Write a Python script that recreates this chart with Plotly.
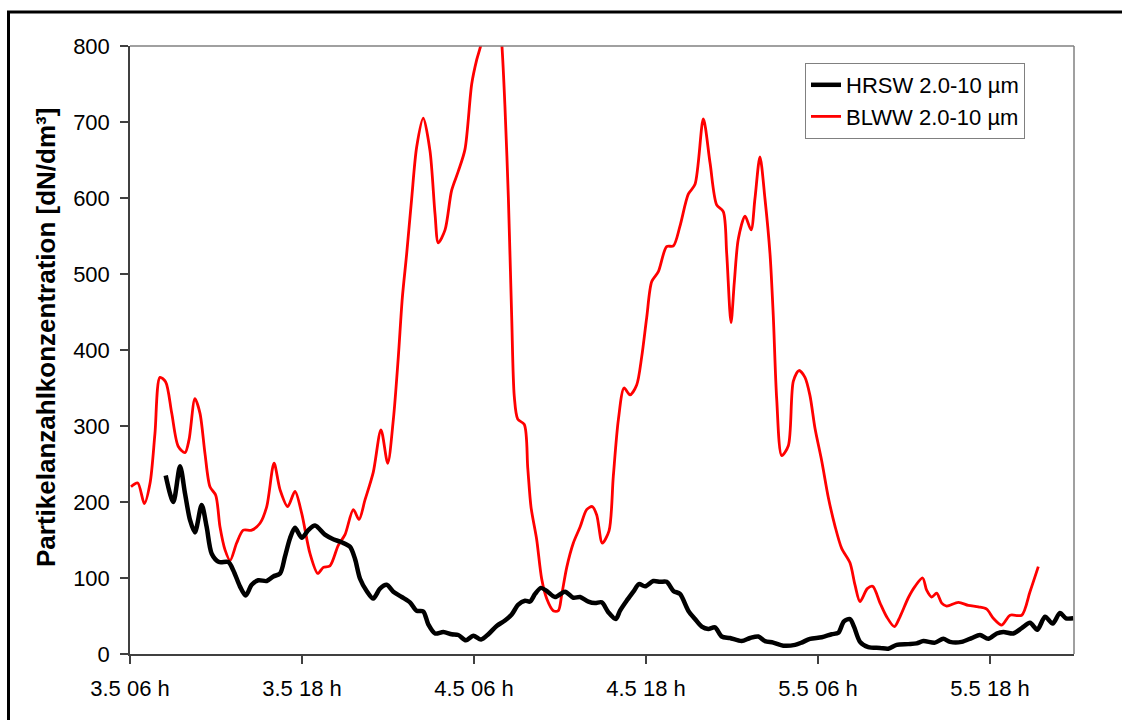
import plotly.graph_objects as go

# hours since 3.5 06 h
tick_hours = [0, 12, 24, 36, 48, 60]
tick_labels = ["3.5 06 h", "3.5 18 h", "4.5 06 h", "4.5 18 h", "5.5 06 h", "5.5 18 h"]

blww_hours = [0.07, 0.54, 1.0, 1.4, 1.74, 2.09, 2.49, 2.91, 3.37, 3.84, 4.12, 4.53, 4.88, 5.23,
              5.58, 5.98, 6.28, 6.63, 6.98, 7.44, 7.9, 8.49, 9.07, 9.54, 10.05, 10.47, 11.0,
              11.51, 11.98, 12.56, 13.1, 13.49, 13.95, 14.53, 15.0, 15.58, 15.98, 16.4, 16.97,
              17.51, 17.98, 18.37, 18.72, 19.0, 19.3, 19.65, 20.0, 20.46, 20.93, 21.28, 21.51,
              21.98, 22.44, 22.9, 23.37, 23.84, 24.19, 24.53, 25.12, 25.67, 25.95, 26.16, 26.4,
              26.63, 26.81, 27.05, 27.51, 27.75, 27.98, 28.37, 28.72, 29.07, 29.53, 29.88,
              30.12, 30.47, 30.93, 31.4, 31.86, 32.25, 32.56, 32.95, 33.42, 33.72, 34.07,
              34.47, 34.88, 35.35, 35.7, 36.05, 36.4, 36.86, 37.44, 37.91, 38.37, 38.95, 39.42,
              40.0, 40.47, 40.93, 41.39, 41.63, 41.93, 42.16, 42.44, 42.91, 43.33, 43.6, 43.95,
              44.3, 44.65, 44.88, 45.12, 45.47, 45.93, 46.28, 46.67, 47.09, 47.44, 47.79, 48.26,
              48.72, 49.19, 49.65, 50.23, 50.58, 50.93, 51.44, 51.82, 52.33, 52.79, 53.33,
              53.72, 54.3, 54.77, 55.3, 55.58, 55.93, 56.28, 56.63, 56.98, 57.79, 58.49, 59.19,
              59.77, 60.23, 60.82, 61.4, 62.21, 62.79, 63.37]
blww_values = [220, 225, 198, 225, 290, 364, 358, 317, 273, 265, 282, 336, 317, 264,
               220, 209, 167, 137, 123, 146, 163, 163, 172, 194, 251, 216, 194,
               214, 185, 132, 106, 114, 116, 143, 157, 190, 177, 203, 239,
               295, 251, 308, 391, 469, 526, 599, 667, 705, 662, 579, 541,
               558, 610, 635, 664, 750, 782, 805, 880, 860, 800, 720, 599,
               443, 339, 309, 302, 245, 193, 151, 99, 73, 57, 57,
               78, 114, 146, 167, 190, 194, 183, 146, 162, 234, 308,
               350, 341, 354, 391, 443, 490, 503, 536, 537, 563, 605, 618,
               704, 646, 591, 582, 527, 436, 489, 546, 576, 558, 599, 654,
               599, 527, 445, 335, 261, 274, 359, 373, 364, 340, 297, 254,
               206, 168, 139, 120, 91, 69, 86, 89, 67, 49, 36,
               49, 74, 89, 100, 84, 75, 80, 67, 63, 68, 64, 62,
               59, 47, 38, 51, 51, 82, 115]

hrsw_hours = [2.49, 3.02, 3.49, 3.84, 4.19, 4.53, 5.0, 5.35, 5.7, 6.21, 6.86, 7.21, 7.67, 8.07,
              8.49, 8.95, 9.54, 10.0, 10.47, 10.81, 11.16, 11.51, 11.98, 12.44, 12.91, 13.6,
              14.18, 14.77, 15.35, 15.7, 16.05, 16.51, 16.97, 17.44, 17.91, 18.37, 18.96, 19.53,
              20.0, 20.46, 20.81, 21.28, 21.86, 22.44, 22.9, 23.44, 23.95, 24.49, 25.0, 25.58,
              26.16, 26.63, 27.09, 27.56, 27.91, 28.26, 28.67, 29.07, 29.65, 30.35, 30.93, 31.4,
              31.98, 32.44, 32.91, 33.37, 33.89, 34.19, 34.65, 35.12, 35.51, 35.93, 36.51, 36.98,
              37.44, 37.91, 38.37, 38.95, 39.42, 39.89, 40.35, 40.81, 41.28, 41.86, 42.67, 43.26,
              43.84, 44.3, 44.88, 45.58, 46.4, 46.86, 47.44, 48.26, 48.95, 49.42, 49.81, 50.23,
              50.51, 50.93, 51.51, 52.33, 52.9, 53.49, 54.3, 54.88, 55.35, 56.16, 56.74, 57.21,
              58.02, 58.72, 59.3, 59.88, 60.47, 60.93, 61.63, 62.21, 62.79, 63.3, 63.84, 64.37,
              64.88, 65.3, 65.81]
hrsw_values = [235, 200, 247, 211, 176, 160, 196, 167, 132, 121, 121, 110, 89, 77,
               91, 97, 96, 102, 106, 128, 152, 166, 153, 163, 169, 157,
               151, 147, 141, 125, 99, 83, 73, 86, 91, 82, 75, 68,
               57, 56, 39, 27, 29, 26, 25, 18, 24, 19, 26, 37,
               44, 52, 65, 70, 69, 79, 87, 83, 75, 82, 74, 75,
               69, 67, 68, 55, 46, 57, 70, 82, 92, 89, 96, 95,
               95, 83, 79, 57, 46, 36, 33, 35, 23, 21, 17, 21,
               23, 17, 15, 11, 12, 15, 20, 22, 26, 28, 43, 46,
               36, 16, 9, 8, 7, 12, 13, 14, 17, 15, 20, 16,
               16, 21, 25, 20, 27, 29, 27, 34, 41, 32, 49, 40,
               54, 47, 47]

FONT = "Liberation Sans, Arial, sans-serif"

fig = go.Figure()
fig.add_trace(go.Scatter(x=blww_hours, y=blww_values, mode="lines", name="BLWW 2.0-10 µm",
                         line=dict(color="#ff0000", width=2.8, shape="spline", smoothing=0.8),
                         legendrank=2, legendgroup="b"))
fig.add_trace(go.Scatter(x=hrsw_hours, y=hrsw_values, mode="lines", name="HRSW 2.0-10 µm",
                         line=dict(color="#000000", width=4.5, shape="spline", smoothing=0.8),
                         legendrank=1, legendgroup="a"))

L, R, T, B = 130, 48, 46, 66
W, H = 1122, 720
pw, ph = W - L - R, H - T - B

def px_x(p):
    return (p - L) / pw

def px_y(p):
    return (H - B - p) / ph

fig.update_layout(
    width=W, height=H,
    margin=dict(l=L, r=R, t=T, b=B),
    paper_bgcolor="white", plot_bgcolor="white",
    font=dict(family=FONT, size=22, color="black"),
    showlegend=True,
    legend=dict(x=px_x(805), y=px_y(63), xanchor="left", yanchor="top",
                bordercolor="#808080", borderwidth=1, bgcolor="white",
                font=dict(size=22, family=FONT), tracegroupgap=6,
                traceorder="normal"),
    xaxis=dict(range=[0, 65.86], tickvals=tick_hours, ticktext=tick_labels,
               showgrid=False, zeroline=False, showline=True, linecolor="#404040", linewidth=1.5,
               ticks="outside", ticklen=8, tickcolor="#404040", tickwidth=1.5,
               tickfont=dict(size=22), ticklabelstandoff=6),
    yaxis=dict(range=[0, 800], dtick=100, showgrid=False, zeroline=False, showline=True,
               linecolor="#404040", linewidth=1.5, ticks="outside", ticklen=8,
               tickcolor="#404040", tickwidth=1.5, tickfont=dict(size=22), ticklabelstandoff=6),
)

# plot-area frame top and right (gray)
fig.add_shape(type="line", xref="paper", yref="paper", x0=0, x1=1, y0=1, y1=1,
              line=dict(color="#808080", width=1.5))
fig.add_shape(type="line", xref="paper", yref="paper", x0=1, x1=1, y0=0, y1=1,
              line=dict(color="#808080", width=1.5))
# outer chart frame
fig.add_shape(type="rect", xref="paper", yref="paper",
              x0=px_x(8.5), x1=px_x(1135), y0=px_y(735), y1=px_y(12),
              line=dict(color="black", width=3), layer="above")

fig.add_annotation(text="<b>Partikelanzahlkonzentration [dN/dm³]</b>", textangle=-90,
                   xref="paper", yref="paper", x=px_x(46), y=px_y(338),
                   xanchor="center", yanchor="middle", showarrow=False,
                   font=dict(size=26, family=FONT, color="black"))

fig.write_html("out.html")
